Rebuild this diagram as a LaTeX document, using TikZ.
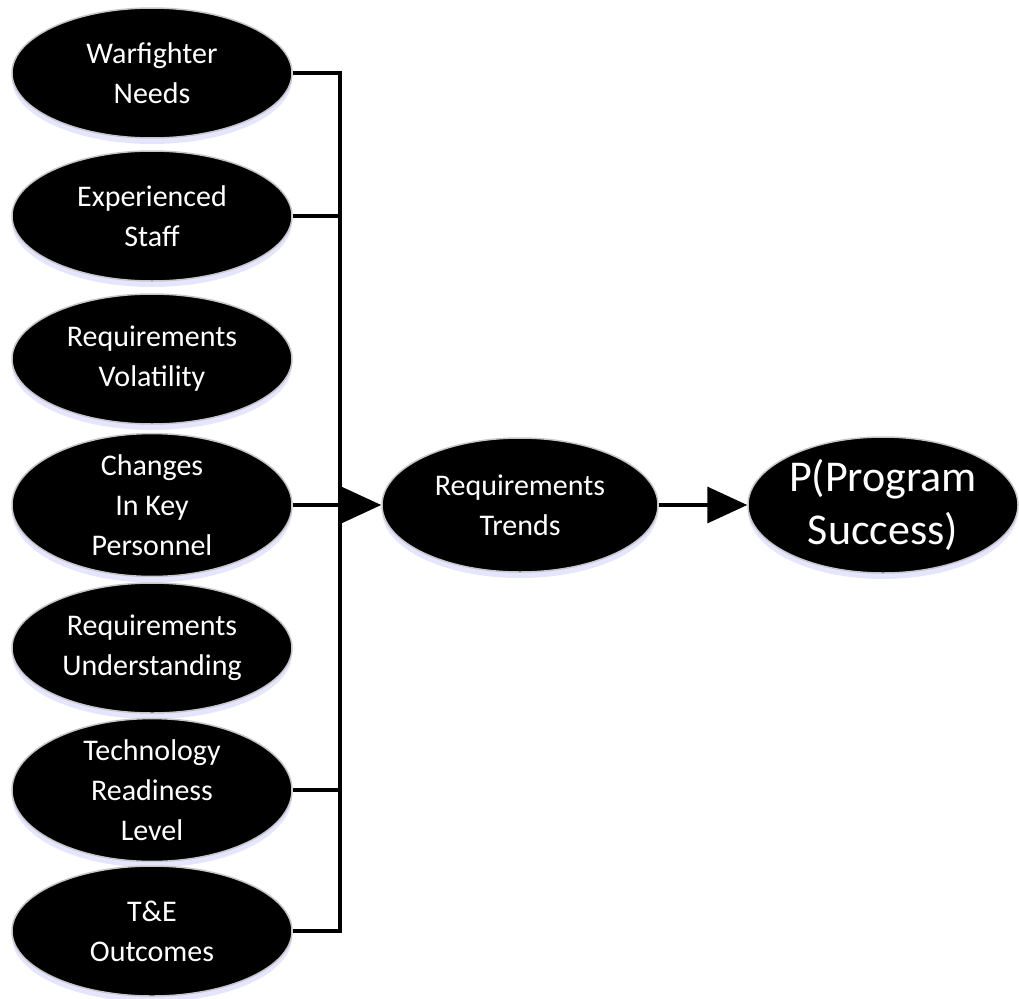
\documentclass[tikz,border=0pt]{standalone}
\usepackage{fontspec}
\setmainfont{Carlito}
\usetikzlibrary{shapes.geometric,arrows.meta,shadows}
\tikzset{
  factor/.style={ellipse, fill=black, draw=gray!45, line width=1.5pt, text=white,
    minimum width=280pt, minimum height=130pt, inner sep=0pt, align=center,
    font=\fontsize{30}{40}\selectfont,
    drop shadow={shadow xshift=0pt, shadow yshift=-6pt, fill=blue!10, draw=none, opacity=1}},
  conn/.style={line width=3.5pt, line join=miter},
  arr/.style={line width=3.5pt, -{Triangle[length=40pt,width=36pt]}}
}
\begin{document}
\begin{tikzpicture}[x=1pt,y=-1pt]
\useasboundingbox (0,0) rectangle (1019,998);
\node[factor] (n1) at (152,73) {Warfighter\\Needs};
\node[factor] (n2) at (152,216) {Experienced\\Staff};
\node[factor] (n3) at (152,359) {Requirements\\Volatility};
\node[factor] (n4) at (152,505) {Changes\\In Key\\Personnel};
\node[factor] (n5) at (152,648) {Requirements\\Understanding};
\node[factor] (n6) at (152,790) {Technology\\Readiness\\Level};
\node[factor] (n7) at (152,931) {T\&E\\Outcomes};
\node[factor, minimum width=276pt, minimum height=134pt] (rt) at (520,505) {Requirements\\Trends};
\node[factor, minimum width=270pt, minimum height=136pt, font=\fontsize{44}{53}\selectfont] (ps) at (883,505) {P(Program\\Success)};
\coordinate (bustop) at (340,73);
\coordinate (busbot) at (340,931);
\draw[conn] (n1.east) -- (bustop) -- (busbot) -- (n7.east);
\draw[conn] (n2.east) -- (n2.east -| bustop);
\draw[conn] (n6.east) -- (n6.east -| bustop);
\draw[arr] (n4.east) -- (rt.west);
\draw[arr] (rt.east) -- (ps.west);
\end{tikzpicture}
\end{document}
